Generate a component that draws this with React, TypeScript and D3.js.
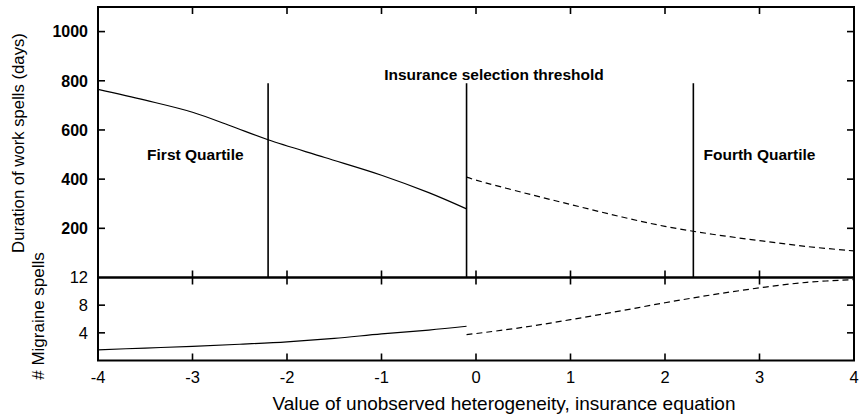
import React from "react";
import * as d3 from "d3";

// Data
const durSolidX = [-4, -3.5, -3, -2.6, -2.2, -1.6, -1, -0.5, -0.1];
const durSolidY = [765, 721, 672, 617, 560, 488, 416, 345, 279];
const durDashX = [-0.1, 0, 0.5, 1, 1.5, 2, 2.5, 3, 3.5, 4];
const durDashY = [408, 396, 345, 297, 250, 208, 176, 150, 126, 108];
const migSolidX = [-4, -3.5, -3, -2.5, -2, -1.5, -1, -0.5, -0.1];
const migSolidY = [1.55, 1.8, 2.05, 2.35, 2.7, 3.2, 3.85, 4.4, 4.95];
const migDashX = [-0.1, 0, 0.5, 1, 1.5, 2, 2.5, 3, 3.5, 4];
const migDashY = [3.75, 3.9, 4.8, 5.9, 7.1, 8.35, 9.5, 10.5, 11.3, 11.7];
const markerX = [-2.2, -0.1, 2.3];
const markerTop = 790;
const xTicks = [-4, -3, -2, -1, 0, 1, 2, 3, 4];
const durTicks = [200, 400, 600, 800, 1000];
const migTicks = [4, 8, 12];
const annotations = [
  { text: "First Quartile", x: -2.97, y: 478 },
  { text: "Insurance selection threshold", x: 0.19, y: 802 },
  { text: "Fourth Quartile", x: 3.0, y: 478 },
];

const W = 863;
const H = 415;
const L = 98, R = 854, T = 7, MID = 277.5, B = 360.5;
const FONT = "'Liberation Sans', Arial, Helvetica, sans-serif";

export default function App() {
  const x = d3.scaleLinear().domain([-4, 4]).range([L, R]);
  const yTop = d3.scaleLinear().domain([0, 1100]).range([MID, T]);
  const yBot = d3.scaleLinear().domain([0, 12]).range([B, MID]);

  const mk = (xs: number[], ys: number[], ys2: d3.ScaleLinear<number, number>) =>
    d3.line<number>().x((_, i) => x(xs[i])).y((v) => ys2(v)).curve(d3.curveCatmullRom.alpha(0.5))(ys) || "";

  const tl = 7;
  return (
    <svg width={W} height={H} style={{ position: "absolute", left: 0, top: 0, background: "#fff" }} fontFamily={FONT}>
      <rect x={0} y={0} width={W} height={H} fill="#fff" />
      {/* curves */}
      <path d={mk(durSolidX, durSolidY, yTop)} fill="none" stroke="#000" strokeWidth={1.2} />
      <path d={mk(durDashX, durDashY, yTop)} fill="none" stroke="#000" strokeWidth={1.2} strokeDasharray="6,4" />
      <path d={mk(migSolidX, migSolidY, yBot)} fill="none" stroke="#000" strokeWidth={1.2} />
      <path d={mk(migDashX, migDashY, yBot)} fill="none" stroke="#000" strokeWidth={1.2} strokeDasharray="6,4" />
      {/* markers */}
      {markerX.map((m) => (
        <line key={m} x1={x(m)} x2={x(m)} y1={yTop(markerTop)} y2={MID} stroke="#000" strokeWidth={1.6} />
      ))}
      {/* frames */}
      <rect x={L} y={T} width={R - L} height={MID - T} fill="none" stroke="#000" strokeWidth={2} />
      <rect x={L} y={MID} width={R - L} height={B - MID} fill="none" stroke="#000" strokeWidth={2} />
      {/* x ticks */}
      {xTicks.map((t) => (
        <g key={t}>
          <line x1={x(t)} x2={x(t)} y1={T} y2={T + tl} stroke="#000" strokeWidth={1.6} />
          <line x1={x(t)} x2={x(t)} y1={MID - tl} y2={MID + tl} stroke="#000" strokeWidth={1.6} />
          <line x1={x(t)} x2={x(t)} y1={B - tl} y2={B} stroke="#000" strokeWidth={1.6} />
          <text x={x(t)} y={382.5} fontSize={16.5} textAnchor="middle" fill="#000">{t}</text>
        </g>
      ))}
      {/* top y ticks */}
      {durTicks.map((t) => (
        <g key={t}>
          <line x1={L} x2={L + tl} y1={yTop(t)} y2={yTop(t)} stroke="#000" strokeWidth={1.6} />
          <line x1={R - tl} x2={R} y1={yTop(t)} y2={yTop(t)} stroke="#000" strokeWidth={1.6} />
          <text x={L - 10} y={yTop(t) + 5.8} fontSize={16} textAnchor="end" fill="#000" fontWeight={600}>{t}</text>
        </g>
      ))}
      {/* bottom y ticks */}
      {migTicks.map((t) => (
        <g key={t}>
          {t < 12 && <line x1={L} x2={L + tl} y1={yBot(t)} y2={yBot(t)} stroke="#000" strokeWidth={1.6} />}
          {t < 12 && <line x1={R - tl} x2={R} y1={yBot(t)} y2={yBot(t)} stroke="#000" strokeWidth={1.6} />}
          <text x={L - 10} y={yBot(t) + 5.8} fontSize={16.5} textAnchor="end" fill="#000">{t}</text>
        </g>
      ))}
      {/* annotations */}
      {annotations.map((a) => (
        <text key={a.text} x={x(a.x)} y={yTop(a.y)} fontSize={15.5} textAnchor="middle" fill="#000" fontWeight={600}>{a.text}</text>
      ))}
      {/* axis titles */}
      <text transform={`translate(24,143) rotate(-90)`} fontSize={16.7} textAnchor="middle" fill="#000">Duration of work spells (days)</text>
      <text transform={`translate(44,316) rotate(-90)`} fontSize={17} textAnchor="middle" fill="#000"># Migraine spells</text>
      <text x={504} y={410} fontSize={19} textAnchor="middle" fill="#000">Value of unobserved heterogeneity, insurance equation</text>
    </svg>
  );
}
